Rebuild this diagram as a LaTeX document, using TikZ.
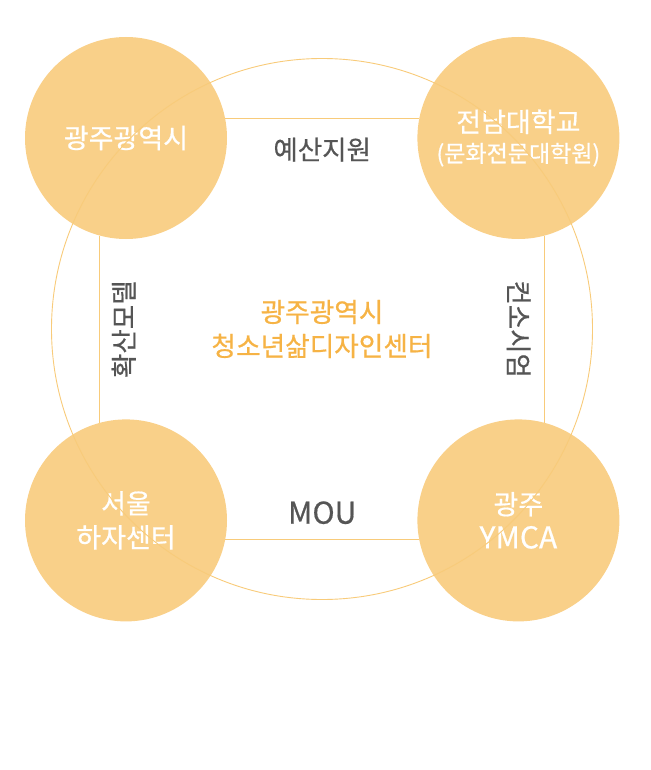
\documentclass[tikz,border=0pt]{standalone}
\usepackage{fontspec}
\setmainfont{Noto Sans CJK KR}[FakeBold=0.6]
\usetikzlibrary{positioning}

\definecolor{partnerfill}{HTML}{F9D089}
\definecolor{linecol}{HTML}{F8CB7A}
\definecolor{hubtext}{HTML}{F6B345}
\definecolor{labelgray}{HTML}{555555}

\begin{document}
\begin{tikzpicture} [
						x=1pt, y=-1pt,
						partner/.style={circle, fill=partnerfill, minimum size=202pt, inner sep=0pt,
							text=white, align=center, font=\fontsize{27}{34}\selectfont},
						ring/.style={circle, draw=linecol, line width=0.9pt, minimum size=541pt,
							text=hubtext, align=center, font=\fontsize{26.7}{34}\selectfont},
						link/.style={draw=linecol, line width=0.9pt},
						lbl/.style={text=labelgray, inner sep=0pt, font=\fontsize{26.5}{30}\selectfont}
					]

\useasboundingbox (0,0) rectangle (650,770);

\node (gj) [partner] at (126,138) {광주광역시};
\node (cnu) [partner, right=190pt of gj] {전남대학교\\[-4pt]{\fontsize{23}{26}\selectfont(문화전문대학원)}};
\node (seoul) [partner, below=180pt of gj] {서울\\하자센터};
\node (ymca) [partner, right=190pt of seoul] {광주\\{\fontsize{30}{34}\selectfont YMCA}};

\path[link]
	(gj.11)    edge node [lbl, yshift=-31pt] {예산지원} (cnu.169)
	(seoul.-11) edge node [lbl, yshift=27pt, font=\fontsize{30}{34}\selectfont] {MOU} (ymca.191)
	(gj.255)   edge node [lbl, xshift=24pt, rotate=90] {확산모델} (seoul.105)
	(cnu.285)  edge node [lbl, xshift=-26pt, rotate=-90] {컨소시엄} (ymca.75);

\node (hub) [ring] at (322,329) {광주광역시\\청소년삶디자인센터};

\end{tikzpicture}
\end{document}
